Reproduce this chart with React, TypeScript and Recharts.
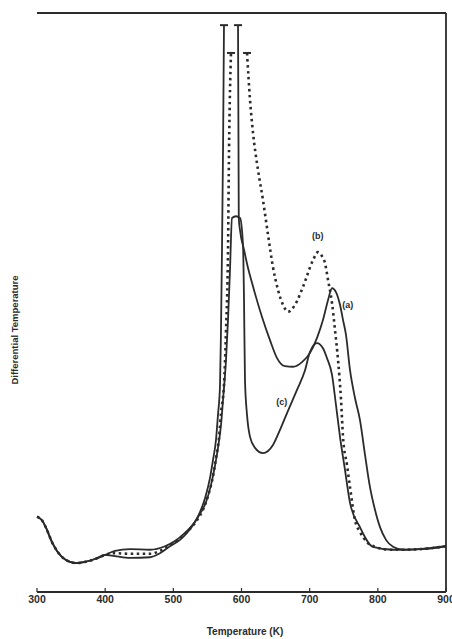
import React from "react";
import { LineChart, Line, XAxis, YAxis, Scatter, ReferenceDot, ReferenceLine } from "recharts";

type Pt = { T: number; v: number | null };

// x: temperature (K), v: differential temperature (arbitrary units, 0-100)
const xTicks = [300, 400, 500, 600, 700, 800, 900];

// common start of all three traces
const baseLeft: Pt[] = [
  { T: 300, v: 13.0 }, { T: 307.3, v: 12.4 }, { T: 314.7, v: 10.7 }, { T: 322.0, v: 8.6 },
  { T: 329.3, v: 7.1 }, { T: 338.1, v: 5.9 }, { T: 348.4, v: 5.2 }, { T: 357.2, v: 5.0 },
  { T: 370.4, v: 5.2 }, { T: 385.1, v: 5.7 }, { T: 399.8, v: 6.4 },
];

// (a) solid
const curveA: Pt[] = [
  { T: 414.4, v: 6.2 }, { T: 436.4, v: 5.9 }, { T: 465.8, v: 6.0 }, { T: 480.4, v: 6.7 },
  { T: 495.1, v: 7.9 }, { T: 509.8, v: 9.0 }, { T: 521.5, v: 10.4 }, { T: 531.8, v: 12.1 },
  { T: 539.1, v: 13.8 }, { T: 546.5, v: 16.2 }, { T: 553.8, v: 19.7 }, { T: 558.2, v: 22.8 },
  { T: 562.6, v: 26.3 }, { T: 565.5, v: 30.6 }, { T: 568.5, v: 35.8 }, { T: 569.9, v: 45.2 },
  { T: 571.4, v: 59.1 }, { T: 572.9, v: 76.3 }, { T: 574.3, v: 97.9 },
  { T: 585, v: null }, // off scale
  { T: 594.9, v: 97.9 }, { T: 596.0, v: 64.6 }, { T: 597.8, v: 62.5 }, { T: 603.7, v: 59.1 },
  { T: 609.5, v: 56.0 }, { T: 615.4, v: 53.4 }, { T: 630.1, v: 47.5 }, { T: 641.8, v: 43.5 },
  { T: 652.1, v: 40.4 }, { T: 663.8, v: 39.0 }, { T: 675.6, v: 38.9 }, { T: 688.8, v: 39.7 },
  { T: 700.5, v: 41.3 }, { T: 710.8, v: 43.9 }, { T: 719.6, v: 47.0 }, { T: 726.9, v: 50.4 },
  { T: 732.8, v: 52.5 }, { T: 738.6, v: 51.8 }, { T: 744.5, v: 49.6 }, { T: 748.9, v: 47.0 },
  { T: 753.3, v: 44.4 }, { T: 759.2, v: 38.3 }, { T: 766.5, v: 33.5 }, { T: 773.8, v: 29.7 },
  { T: 781.2, v: 23.7 }, { T: 788.5, v: 18.1 }, { T: 795.8, v: 14.2 }, { T: 803.2, v: 11.2 },
  { T: 812.0, v: 9.0 }, { T: 822.3, v: 7.8 }, { T: 836.9, v: 7.3 }, { T: 861.9, v: 7.4 },
  { T: 900, v: 7.9 },
];

// (b) dotted
const curveB: Pt[] = [
  { T: 414.4, v: 6.7 }, { T: 436.4, v: 6.6 }, { T: 465.8, v: 6.6 }, { T: 480.4, v: 7.1 },
  { T: 495.1, v: 8.1 }, { T: 509.8, v: 9.3 }, { T: 524.4, v: 10.9 }, { T: 534.7, v: 12.4 },
  { T: 543.5, v: 14.2 }, { T: 550.9, v: 16.6 }, { T: 558.2, v: 20.0 }, { T: 562.6, v: 23.1 },
  { T: 567.0, v: 26.6 }, { T: 569.9, v: 30.9 }, { T: 574.3, v: 35.8 }, { T: 577.3, v: 45.2 },
  { T: 580.2, v: 59.1 }, { T: 581.7, v: 76.3 }, { T: 584.6, v: 93.1 },
  { T: 595, v: null }, // off scale
  { T: 608.1, v: 93.1 }, { T: 612.5, v: 85.0 }, { T: 616.9, v: 79.3 }, { T: 624.2, v: 72.9 },
  { T: 631.5, v: 67.7 }, { T: 638.9, v: 61.7 }, { T: 646.2, v: 56.1 }, { T: 653.5, v: 52.2 },
  { T: 660.9, v: 49.6 }, { T: 668.2, v: 48.4 }, { T: 678.5, v: 49.6 }, { T: 690.2, v: 52.7 },
  { T: 704.9, v: 57.3 }, { T: 712.2, v: 58.7 }, { T: 718.1, v: 58.0 }, { T: 722.5, v: 56.8 },
  { T: 726.9, v: 53.9 }, { T: 732.8, v: 49.9 }, { T: 737.2, v: 45.2 }, { T: 741.6, v: 40.1 },
  { T: 746.0, v: 33.2 }, { T: 748.9, v: 26.8 }, { T: 754.8, v: 21.9 }, { T: 759.2, v: 18.1 },
  { T: 766.5, v: 12.4 }, { T: 773.8, v: 10.4 }, { T: 784.1, v: 8.6 }, { T: 795.8, v: 7.8 },
  { T: 817.9, v: 7.3 }, { T: 836.9, v: 7.3 }, { T: 861.9, v: 7.4 }, { T: 900, v: 7.9 },
];

// (c) solid
const curveC: Pt[] = [
  { T: 414.4, v: 7.1 }, { T: 436.4, v: 7.4 }, { T: 465.8, v: 7.3 }, { T: 487.8, v: 7.9 },
  { T: 502.4, v: 8.8 }, { T: 517.1, v: 10.2 }, { T: 528.9, v: 11.7 }, { T: 539.1, v: 13.5 },
  { T: 547.9, v: 15.5 }, { T: 555.3, v: 18.5 }, { T: 561.1, v: 21.8 }, { T: 565.5, v: 24.9 },
  { T: 569.9, v: 28.8 }, { T: 572.9, v: 33.2 }, { T: 577.3, v: 40.1 }, { T: 580.2, v: 47.0 },
  { T: 583.1, v: 55.6 }, { T: 586.1, v: 64.6 }, { T: 591.9, v: 64.9 }, { T: 597.8, v: 64.6 },
  { T: 602.2, v: 59.9 }, { T: 603.7, v: 50.4 }, { T: 605.1, v: 36.6 }, { T: 608.1, v: 30.6 },
  { T: 612.5, v: 26.8 }, { T: 619.8, v: 24.9 }, { T: 631.5, v: 24.0 }, { T: 646.2, v: 25.4 },
  { T: 656.5, v: 28.0 }, { T: 666.8, v: 30.9 }, { T: 681.4, v: 34.9 }, { T: 693.2, v: 38.3 },
  { T: 700.5, v: 41.5 }, { T: 710.8, v: 43.0 }, { T: 719.6, v: 42.1 }, { T: 725.4, v: 40.4 },
  { T: 732.8, v: 37.5 }, { T: 738.6, v: 32.3 }, { T: 744.5, v: 26.8 }, { T: 751.8, v: 21.1 },
  { T: 759.2, v: 15.4 }, { T: 773.8, v: 11.2 }, { T: 792.9, v: 7.8 }, { T: 822.3, v: 7.3 },
  { T: 861.9, v: 7.4 }, { T: 900, v: 7.9 },
];

// "T" caps where the peaks leave the scale
const capsSolid = [{ T: 574.3, v: 97.9 }, { T: 594.9, v: 97.9 }];
const capsDotted = [{ T: 584.6, v: 93.1 }, { T: 608.1, v: 93.1 }];

const curveLabels = [
  { name: "(a)", T: 756, v: 49.6 },
  { name: "(b)", T: 712, v: 61.5 },
  { name: "(c)", T: 659, v: 32.8 },
];

const INK = "#2b2b2b";
const FONT = "'Liberation Sans', Arial, sans-serif";

const dataA = [...baseLeft, ...curveA];
const dataB = [...baseLeft, ...curveB];
const dataC = [...baseLeft, ...curveC];

const Cap = (props: any) => {
  const { cx, cy } = props;
  if (cx == null || cy == null) return <g />;
  return <line x1={cx - 4} x2={cx + 4} y1={cy} y2={cy} stroke={INK} strokeWidth={2} />;
};

// axis titles (drawn through the x axis label slot)
const AxisTitles = () => (
  <g fontWeight="bold" fill={INK} fontFamily={FONT}>
    <text x={245} y={632} textAnchor="middle" dominantBaseline="middle" fontSize={10}>
      Temperature (K)
    </text>
    <text x={15} y={330} transform="rotate(-90 15 330)" textAnchor="middle" dominantBaseline="middle" fontSize={9.5}>
      Differential Temperature
    </text>
  </g>
);

const App = () => {
  return (
    <div style={{ position: "absolute", left: 0, top: 0, width: 452, height: 639, background: "#fff" }}>
      <LineChart width={452} height={639} margin={{ top: 13, right: 6, left: 37, bottom: 17 }}>
        <XAxis
          dataKey="T"
          type="number"
          domain={[300, 900]}
          ticks={xTicks}
          allowDuplicatedCategory={false}
          height={30}
          axisLine={{ stroke: INK, strokeWidth: 1.8 }}
          tickLine={{ stroke: INK, strokeWidth: 1.2 }}
          tickSize={-4}
          tickMargin={8}
          interval={0}
          tick={{ fontSize: 10.5, fontWeight: "bold", fill: INK, fontFamily: FONT }}
          label={{ content: () => <AxisTitles /> }}
        />
        <YAxis
          dataKey="v"
          type="number"
          domain={[0, 100]}
          width={0}
          tick={false}
          tickLine={false}
          axisLine={{ stroke: INK, strokeWidth: 1.8 }}
        />
        {/* top and right sides of the frame */}
        <ReferenceLine y={100} stroke={INK} strokeWidth={1.8} ifOverflow="extendDomain" />
        <ReferenceLine x={900} stroke={INK} strokeWidth={1.8} ifOverflow="extendDomain" />

        <Line data={dataA} dataKey="v" type="monotone" stroke={INK} strokeWidth={1.8} dot={false} isAnimationActive={false} />
        <Line data={dataC} dataKey="v" type="monotone" stroke={INK} strokeWidth={1.8} dot={false} isAnimationActive={false} />
        <Line data={dataB} dataKey="v" type="monotone" stroke={INK} strokeWidth={2.6} strokeDasharray="2.5 3.5" dot={false} isAnimationActive={false} />

        <Scatter data={capsSolid} dataKey="v" shape={Cap} isAnimationActive={false} />
        <Scatter data={capsDotted} dataKey="v" shape={Cap} isAnimationActive={false} />

        {curveLabels.map((l) => (
          <ReferenceDot
            key={l.name}
            x={l.T}
            y={l.v}
            r={0}
            stroke="none"
            label={{ value: l.name, position: "center", fontSize: 9, fontWeight: "bold", fill: INK, fontFamily: FONT }}
          />
        ))}
      </LineChart>
    </div>
  );
};

export default App;
